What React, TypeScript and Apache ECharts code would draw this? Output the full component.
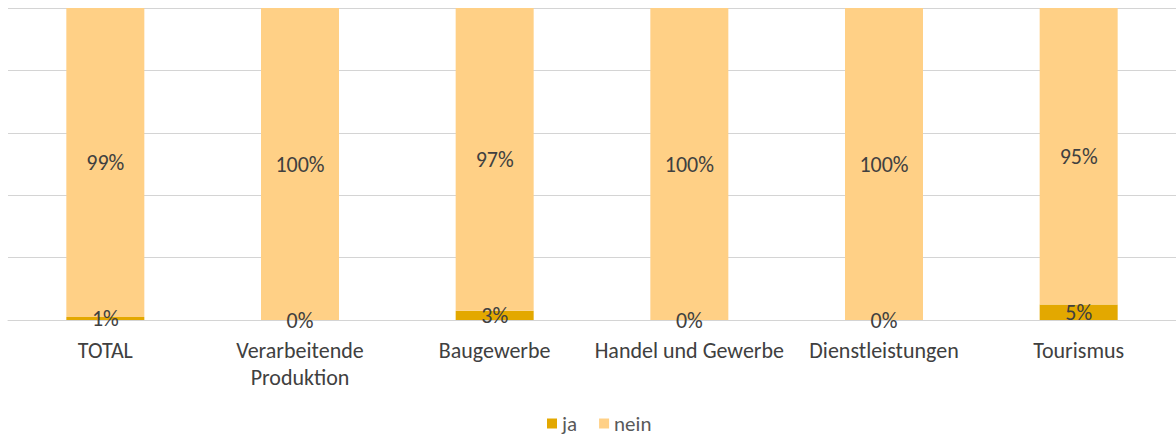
import React, { useEffect, useRef } from "react";
import * as echarts from "echarts";

const categories = [
  "TOTAL",
  "Verarbeitende\nProduktion",
  "Baugewerbe",
  "Handel und Gewerbe",
  "Dienstleistungen",
  "Tourismus",
];
const jaValues = [1, 0, 3, 0, 0, 5];
const neinValues = [99, 100, 97, 100, 100, 95];

const FONT = "Carlito, Lato, 'Open Sans', sans-serif";

export default function App() {
  const ref = useRef<HTMLDivElement>(null);
  useEffect(() => {
    document.body.style.margin = "0";
    const chart = echarts.init(ref.current!, null, { renderer: "svg" });
    const label = {
      show: true,
      position: "inside",
      formatter: (p: any) => p.value + "%",
      color: "#404040",
      fontSize: 22,
      fontFamily: FONT,
    };
    chart.setOption({
      animation: false,
      grid: { left: 8, right: 0, top: 8, bottom: 120, containLabel: false },
      legend: {
        data: ["ja", "nein"],
        bottom: 1,
        left: 542,
        itemWidth: 10,
        itemHeight: 10,
        itemGap: 22,
        icon: "rect",
        textStyle: { color: "#595959", fontSize: 21, fontFamily: FONT },
      },
      xAxis: {
        type: "category",
        data: categories,
        axisLine: { lineStyle: { color: "#D4D4D4", width: 1 } },
        axisTick: { show: false },
        axisLabel: {
          color: "#404040",
          fontSize: 22,
          fontFamily: FONT,
          margin: 17,
          lineHeight: 27,
          interval: 0,
        },
      },
      yAxis: {
        type: "value",
        min: 0,
        max: 100,
        interval: 20,
        axisLabel: { show: false },
        axisLine: { show: false },
        axisTick: { show: false },
        splitLine: { lineStyle: { color: "#D4D4D4", width: 1 } },
      },
      series: [
        {
          name: "ja",
          type: "bar",
          stack: "total",
          data: jaValues,
          barWidth: 78,
          itemStyle: { color: "#E3A800" },
          label,
        },
        {
          name: "nein",
          type: "bar",
          stack: "total",
          data: neinValues,
          barWidth: 78,
          itemStyle: { color: "#FFD086" },
          label,
        },
      ],
    });
    return () => chart.dispose();
  }, []);
  return <div ref={ref} style={{ width: 1176, height: 440 }} />;
}
